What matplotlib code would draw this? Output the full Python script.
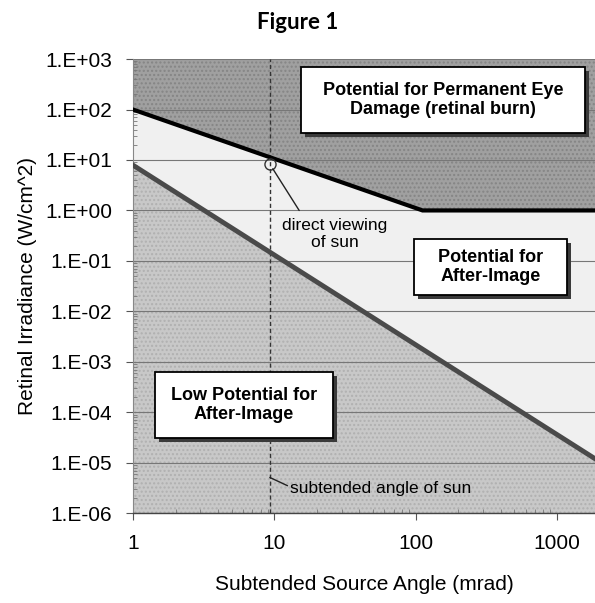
import numpy as np
import matplotlib.pyplot as plt
from matplotlib import patheffects as pe
from matplotlib.patches import Rectangle
from matplotlib.ticker import FuncFormatter, LogLocator, NullFormatter

plt.rcParams['font.family'] = ['Liberation Sans', 'DejaVu Sans']

# retinal burn threshold (upper line) and after-image threshold (lower line)
burn_x = [1, 112, 1860]
burn_y = [100, 1, 1]
after_x = [1, 1860]
after_y = [7.9, 1.2e-5]

# direct viewing of the sun
sun_angle = 9.3
sun_irr = 8.3

x_ticks = [1, 10, 100, 1000]
y_ticks = [1e3, 1e2, 1e1, 1e0, 1e-1, 1e-2, 1e-3, 1e-4, 1e-5, 1e-6]

fig = plt.figure(figsize=(5.95, 6.03), dpi=100)
ax = fig.add_axes([0.2235, 0.149, 0.7765, 0.753])
ax.set_xscale('log')
ax.set_yscale('log')
ax.set_xlim(1, 1860)
ax.set_ylim(1e-6, 1e3)
ax.set_facecolor('#f0f0f0')

# shaded regions
ax.fill_between(burn_x, burn_y, 1e3, facecolor='#a0a0a0', edgecolor='#858585',
                hatch='....', linewidth=0, zorder=1)
ax.fill_between(after_x, 1e-6, after_y, facecolor='#c8c8c8', edgecolor='#b0b0b0',
                hatch='....', linewidth=0, zorder=1)

for y in y_ticks:
    ax.axhline(y, color='#777777', lw=0.8, zorder=2)

ax.plot(burn_x, burn_y, color='black', lw=3, zorder=4, solid_joinstyle='miter')
ax.plot(after_x, after_y, color='#4a4a4a', lw=3.5, zorder=4)

ax.axvline(sun_angle, color='#333333', lw=1, ls=(0, (3, 2)), zorder=3)
ax.plot([sun_angle], [sun_irr], marker='o', ms=8, mfc='none', mec='#333333',
        mew=1, zorder=5)

ax.annotate('', xy=(sun_angle, sun_irr), xytext=(15, 1.0),
            arrowprops=dict(arrowstyle='-', color='#222222', lw=1,
                            shrinkA=0, shrinkB=4), zorder=5)
ax.text(0.436, 0.615, 'direct viewing\nof sun', transform=ax.transAxes,
        ha='center', va='center', fontsize=12.5, linespacing=1.15, zorder=6)

ax.annotate('', xy=(sun_angle, 5.1e-6), xytext=(12.4, 3.5e-6),
            arrowprops=dict(arrowstyle='-', color='#222222', lw=1,
                            shrinkA=0, shrinkB=0), zorder=5)
ax.text(0.340, 0.055, 'subtended angle of sun', transform=ax.transAxes,
        ha='left', va='center', fontsize=12.5, zorder=6)

# labelled region boxes
boxes = [
    ((0.364, 0.837, 0.614, 0.145), 'Potential for Permanent Eye\nDamage (retinal burn)'),
    ((0.608, 0.480, 0.331, 0.124), 'Potential for\nAfter-Image'),
    ((0.048, 0.165, 0.385, 0.146), 'Low Potential for\nAfter-Image'),
]
for (x0, y0, w, h), label in boxes:
    r = Rectangle((x0, y0), w, h, transform=ax.transAxes, facecolor='white',
                  edgecolor='black', lw=1.3, zorder=7, clip_on=False)
    r.set_path_effects([pe.SimplePatchShadow(offset=(3, -3), shadow_rgbFace='#3a3a3a',
                                             alpha=1.0), pe.Normal()])
    ax.add_patch(r)
    ax.text(x0 + w / 2, y0 + h / 2, label, transform=ax.transAxes, ha='center',
            va='center', fontsize=13, fontweight='bold', linespacing=1.2, zorder=8)

ax.set_xticks(x_ticks)
ax.xaxis.set_major_formatter(FuncFormatter(lambda v, p: f'{v:g}'))
ax.xaxis.set_minor_locator(LogLocator(base=10, subs=np.arange(2, 10)))
ax.xaxis.set_minor_formatter(NullFormatter())
ax.set_yticks(y_ticks)
ax.yaxis.set_major_formatter(
    FuncFormatter(lambda v, p: '1.E%+03d' % round(np.log10(v))))
ax.yaxis.set_minor_locator(LogLocator(base=10, subs=np.arange(2, 10)))
ax.yaxis.set_minor_formatter(NullFormatter())

ax.tick_params(axis='both', which='major', labelsize=15, length=5, width=0.8,
               color='#555555', direction='out')
ax.tick_params(axis='x', which='major', pad=10)
ax.tick_params(axis='y', which='major', pad=10)
ax.tick_params(axis='both', which='minor', length=3, width=0.6,
               color='#777777', direction='in')

for side in ['top', 'right']:
    ax.spines[side].set_visible(False)
ax.spines['left'].set_color('#888888')
ax.spines['left'].set_linestyle((0, (1, 1)))
ax.spines['bottom'].set_color('#444444')
ax.spines['bottom'].set_linewidth(1)

ax.set_xlabel('Subtended Source Angle (mrad)', fontsize=15, labelpad=16)
ax.set_ylabel('Retinal Irradiance (W/cm^2)', fontsize=15, labelpad=6)

fig.text(0.5, 0.963, 'Figure 1', ha='center', va='center', fontsize=16,
         fontweight='bold', family=['Lato', 'DejaVu Sans'])

fig.savefig('out.png', dpi=100)
